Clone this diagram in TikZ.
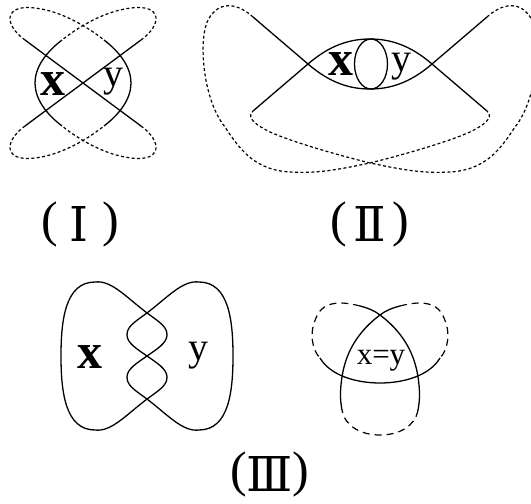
\documentclass[tikz,border=0pt]{standalone}
\usepackage{fontspec}
\setmainfont{Liberation Serif}
\newfontfamily\romnum{DejaVu Serif}
\tikzset{
  knot solid/.style={line width=1.3pt},
  knot dotted/.style={line width=1.2pt,dash pattern=on 3pt off 2.4pt},
  knot dashed/.style={line width=1.2pt,dash pattern=on 7pt off 5pt},
  region big/.style={font=\fontsize{50}{50}\selectfont\bfseries,inner sep=0pt},
  region small/.style={font=\fontsize{40}{40}\selectfont,inner sep=0pt},
  region eq/.style={font=\fontsize{31}{31}\selectfont,inner sep=0pt},
  case paren/.style={font=\fontsize{50}{50}\selectfont,inner sep=0pt},
  case num/.style={font=\fontsize{48}{48}\selectfont\romnum,inner sep=0pt},
}
\begin{document}
\begin{tikzpicture}[x=1pt,y=-1pt]
  \useasboundingbox (0,0) rectangle (531,504);
  % (I)
  \begin{scope}[shift={(83,83)}]
    \draw[knot solid] (-58,-43) -- (58,43);
    \draw[knot solid] (-58,43) -- (58,-43);
    \foreach \sx in {1,-1}{
      \draw[knot solid,xscale=\sx] (21,-43) .. controls (38,-30) and (48,-15) .. (48,0)
        .. controls (48,15) and (38,30) .. (21,43);
      \foreach \sy in {1,-1}
        \draw[knot dotted,xscale=\sx,yscale=\sy] (-58,-43) .. controls (-79,-58) and (-80,-79) .. (-48,-75)
          .. controls (-23,-72) and (2,-58) .. (21,-43);
    }
  \end{scope}
  \node[region big] (x1) at (53,84) {x};
  \node[region small] (y1) at (113,82) {y};
  % (II)
  \begin{scope}[shift={(370,64)}]
    \foreach \sy in {1,-1}
      \draw[knot solid,yscale=\sy] (-117,47) -- (-62,0) .. controls (-40,-19) and (-20,-25) .. (0,-25)
        .. controls (20,-25) and (40,-19) .. (62,0) -- (117,47);
    \draw[knot solid] (1,0) ellipse [x radius=16.5,y radius=25];
    \foreach \sx in {1,-1}
      \draw[knot dotted,xscale=\sx] (-117,-47) .. controls (-130,-59) and (-150,-66) .. (-162,-44)
        .. controls (-172,-24) and (-167,36) .. (-145,63)
        .. controls (-130,86) and (-115,106) .. (-80,108)
        .. controls (-50,110) and (-25,104) .. (0,99)
        .. controls (40,89) and (80,77) .. (100,68)
        .. controls (112,62) and (125,54) .. (117,47);
  \end{scope}
  \node[region big] (x2) at (341,64) {x};
  \node[region small] (y2) at (401,67) {y};
  % (III) left
  \begin{scope}[shift={(147,356)}]
    \draw[knot solid] (0,-43) .. controls (14,-33) and (20,-29) .. (20,-21)
      .. controls (20,-13) and (10,-7) .. (0,0)
      .. controls (-10,7) and (-20,13) .. (-20,21)
      .. controls (-20,29) and (-14,33) .. (0,43)
      .. controls (22,60) and (36,76) .. (52,74)
      .. controls (82,74) and (86,35) .. (86,0)
      .. controls (86,-35) and (82,-74) .. (52,-74)
      .. controls (36,-76) and (22,-60) .. (0,-43)
      .. controls (-14,-33) and (-20,-29) .. (-20,-21)
      .. controls (-20,-13) and (-10,-7) .. (0,0)
      .. controls (10,7) and (20,13) .. (20,21)
      .. controls (20,29) and (14,33) .. (0,43)
      .. controls (-22,60) and (-36,76) .. (-52,74)
      .. controls (-82,74) and (-86,35) .. (-86,0)
      .. controls (-86,-35) and (-82,-74) .. (-52,-74)
      .. controls (-36,-76) and (-22,-60) .. (0,-43) -- cycle;
  \end{scope}
  \node[region big] (x3) at (90,357) {x};
  \node[region small] (y3) at (198,356) {y};
  % (III) right
  \begin{scope}[shift={(380,360)}]
    \foreach \sx in {1,-1}{
      \draw[knot solid,xscale=\sx] (-20,-54) .. controls (-12,-52) and (-5,-49) .. (0,-45)
        .. controls (20,-30) and (34,-10) .. (38,17)
        .. controls (40,30) and (40,40) .. (38,50);
      \draw[knot dashed,xscale=\sx] (20,-54) .. controls (35,-58) and (57,-61) .. (64,-42)
        .. controls (71,-28) and (68,-10) .. (60,-2);
    }
    \draw[knot solid] (60,-2) .. controls (50,15) and (25,23) .. (0,23)
      .. controls (-25,23) and (-50,15) .. (-60,-2);
    \draw[knot dashed] (38,50) .. controls (35,67) and (18,75) .. (0,75)
      .. controls (-18,75) and (-35,67) .. (-38,50);
  \end{scope}
  \node[region eq] (xy) at (381,361) {x=y};
  % case labels
  \node[case paren] (lp1) at (50,224) {(};
  \node[case num] (n1) at (79,224) {Ⅰ};
  \node[case paren] (rp1) at (111,224) {)};
  \node[case paren] (lp2) at (339,224) {(};
  \node[case num] (n2) at (370,224) {Ⅱ};
  \node[case paren] (rp2) at (401,224) {)};
  \node[case paren] (lp3) at (239,474) {(};
  \node[case num] (n3) at (270,474) {Ⅲ};
  \node[case paren] (rp3) at (301,474) {)};
\end{tikzpicture}
\end{document}
